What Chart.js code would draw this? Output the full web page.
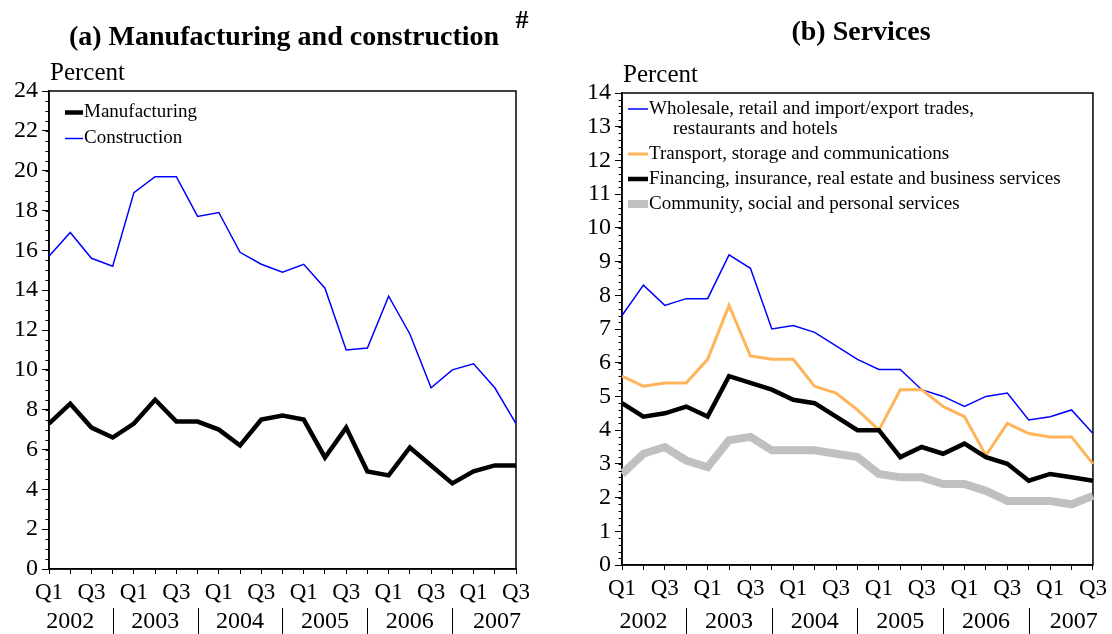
<!DOCTYPE html>
<html>
<head>
<meta charset="utf-8">
<script src="https://cdn.jsdelivr.net/npm/chart.js@4.4.1/dist/chart.umd.min.js"></script>
<style>
  html, body { margin: 0; padding: 0; background: #fff; }
  #wrap { position: relative; width: 1112px; height: 634px; overflow: hidden; }
  .panel { position: absolute; top: 0; height: 634px; }
  #pa { left: 0; width: 545px; }
  #pb { left: 560px; width: 552px; }
</style>
</head>
<body>
<div id="wrap">
  <div class="panel" id="pa"><canvas id="chartA"></canvas></div>
  <div class="panel" id="pb"><canvas id="chartB"></canvas></div>
</div>
<script>
// quarters 2002 Q1 .. 2007 Q3
const years = ["2002", "2003", "2004", "2005", "2006", "2007"];
const quarterNames = ["Q1", "Q2", "Q3", "Q4"];
const quarterLabels = years.flatMap(y => quarterNames.map(q => q + " " + y)).slice(0, 23);

// (a) Manufacturing and construction, percent
const manufacturing = [7.3, 8.3, 7.1, 6.6, 7.3, 8.5, 7.4, 7.4, 7.0, 6.2, 7.5, 7.7,
                       7.5, 5.6, 7.1, 4.9, 4.7, 6.1, 5.2, 4.3, 4.9, 5.2, 5.2];
const construction = [15.7, 16.9, 15.6, 15.2, 18.9, 19.7, 19.7, 17.7, 17.9, 15.9, 15.3, 14.9,
                      15.3, 14.1, 11.0, 11.1, 13.7, 11.8, 9.1, 10.0, 10.3, 9.1, 7.3];

// (b) Services, percent
const wholesale = [7.4, 8.3, 7.7, 7.9, 7.9, 9.2, 8.8, 7.0, 7.1, 6.9, 6.5, 6.1,
                   5.8, 5.8, 5.2, 5.0, 4.7, 5.0, 5.1, 4.3, 4.4, 4.6, 3.9];
const transport = [5.6, 5.3, 5.4, 5.4, 6.1, 7.7, 6.2, 6.1, 6.1, 5.3, 5.1, 4.6,
                   4.0, 5.2, 5.2, 4.7, 4.4, 3.25, 4.2, 3.9, 3.8, 3.8, 3.0];
const financing = [4.8, 4.4, 4.5, 4.7, 4.4, 5.6, 5.4, 5.2, 4.9, 4.8, 4.4, 4.0,
                   4.0, 3.2, 3.5, 3.3, 3.6, 3.2, 3.0, 2.5, 2.7, 2.6, 2.5];
const community = [2.7, 3.3, 3.5, 3.1, 2.9, 3.7, 3.8, 3.4, 3.4, 3.4, 3.3, 3.2,
                   2.7, 2.6, 2.6, 2.4, 2.4, 2.2, 1.9, 1.9, 1.9, 1.8, 2.05];

const SERIF = "'Liberation Serif', 'Times New Roman', serif";
Chart.defaults.font.family = SERIF;
Chart.defaults.color = "#000";

// frame, minor ticks, year row, titles and legend
const decor = {
  id: "decor",
  beforeDatasetsDraw(chart, args, o) {
    const { ctx, chartArea: a } = chart;
    ctx.save();
    ctx.strokeStyle = "#000";
    ctx.lineWidth = 1.5;
    ctx.strokeRect(a.left, a.top, a.right - a.left, a.bottom - a.top);
    ctx.restore();
  },
  afterDraw(chart, args, o) {
    const { ctx, chartArea: a } = chart;
    const x = chart.scales.x, y = chart.scales.y;
    ctx.save();
    ctx.strokeStyle = "#000";
    ctx.fillStyle = "#000";

    // minor y ticks
    ctx.lineWidth = 1;
    for (let v = y.min; v <= y.max + 1e-6; v += o.minor) {
      const py = Math.round(y.getPixelForValue(v)) + 0.5;
      ctx.beginPath();
      ctx.moveTo(a.left - 3.5, py);
      ctx.lineTo(a.left, py);
      ctx.stroke();
    }

    // year row
    const x0 = x.getPixelForValue(0);
    const step = x.getPixelForValue(1) - x0;
    ctx.font = "24px " + SERIF;
    ctx.textAlign = "center";
    ctx.textBaseline = "alphabetic";
    years.forEach((yr, k) => {
      const last = Math.min(4 * k + 3, quarterLabels.length - 1);
      const cx = x0 + step * (4 * k + 1) + (last < 4 * k + 3 ? step * 0.1 : 0);
      ctx.fillText(yr, cx, o.yearBase);
      if (k < years.length - 1) {
        const sx = Math.round(x0 + step * (4 * k + 3)) + 0.5;
        ctx.lineWidth = 1;
        ctx.beginPath();
        ctx.moveTo(sx, o.yearBase - 20);
        ctx.lineTo(sx, chart.height);
        ctx.stroke();
      }
    });

    // title
    ctx.font = "bold 28px " + SERIF;
    ctx.textAlign = "center";
    ctx.textBaseline = "middle";
    ctx.fillText(o.title, o.titleX, o.titleY);
    if (o.hash) {
      ctx.font = "bold 26px " + SERIF;
      ctx.fillText("#", o.hash[0], o.hash[1]);
    }

    // unit label
    ctx.font = "25px " + SERIF;
    ctx.textAlign = "left";
    ctx.fillText("Percent", a.left + 1, o.unitY);

    // legend
    ctx.font = "19px " + SERIF;
    ctx.textBaseline = "middle";
    o.legend.forEach(item => {
      const lx = a.left + o.legendX;
      const ly = a.top + item.dy;
      ctx.strokeStyle = item.color;
      ctx.lineWidth = item.width;
      ctx.lineCap = "butt";
      ctx.beginPath();
      ctx.moveTo(lx, ly);
      ctx.lineTo(lx + o.sampleLen, ly);
      ctx.stroke();
      item.lines.forEach((t, i) => {
        ctx.fillText(t, lx + o.sampleLen + 1 + (i ? 24 : 0), ly + i * 20);
      });
    });
    ctx.restore();
  }
};

function line(label, data, color, width, order) {
  return {
    label, data, order,
    borderColor: color,
    borderWidth: width,
    pointRadius: 0,
    tension: 0,
    borderJoinStyle: "miter",
    borderCapStyle: "butt",
    fill: false
  };
}

function makeChart(id, datasets, yMax, yStep, box, deco) {
  return new Chart(document.getElementById(id), {
    type: "line",
    data: { labels: quarterLabels, datasets },
    plugins: [decor],
    options: {
      responsive: true,
      maintainAspectRatio: false,
      animation: false,
      layout: { padding: { left: 0, right: box.right, top: box.top, bottom: 0 } },
      plugins: {
        legend: { display: false },
        tooltip: { enabled: false },
        decor: deco
      },
      scales: {
        x: {
          afterFit: s => { s.height = box.xh; },
          grid: { drawOnChartArea: false, tickLength: 5, color: "#000", lineWidth: 1 },
          border: { display: true, color: "#000", width: 1.5 },
          ticks: {
            autoSkip: false,
            maxRotation: 0,
            padding: 5,
            font: { size: 23 },
            callback(val, i) { return i % 2 === 0 ? quarterNames[i % 4] : ""; }
          }
        },
        y: {
          min: 0,
          max: yMax,
          afterFit: s => { s.width = box.yw; },
          grid: { drawOnChartArea: false, tickLength: 7, color: "#000", lineWidth: 1 },
          border: { display: true, color: "#000", width: 1.5 },
          ticks: { stepSize: yStep, padding: 4, font: { size: 24 } }
        }
      }
    }
  });
}

makeChart("chartA", [
  line("Manufacturing", manufacturing, "#000000", 4.5, 0),
  line("Construction", construction, "#0000ff", 1.5, 1)
], 24, 2, { right: 29, top: 91, xh: 65, yw: 49 }, {
  minor: 0.5,
  title: "(a) Manufacturing and construction",
  titleX: 284, titleY: 38,
  hash: [522, 21],
  unitY: 73,
  yearBase: 628,
  legendX: 16, sampleLen: 18,
  legend: [
    { lines: ["Manufacturing"], color: "#000000", width: 4.5, dy: 21.5 },
    { lines: ["Construction"], color: "#0000ff", width: 1.5, dy: 47.5 }
  ]
});

makeChart("chartB", [
  line("Wholesale, retail and import/export trades, restaurants and hotels", wholesale, "#0000ff", 1.5, 3),
  line("Transport, storage and communications", transport, "#ffb45a", 3, 2),
  line("Financing, insurance, real estate and business services", financing, "#000000", 4.5, 1),
  line("Community, social and personal services", community, "#c0c0c0", 8, 4)
], 14, 1, { right: 17, top: 93, xh: 69, yw: 62 }, {
  minor: 0.2,
  title: "(b) Services",
  titleX: 301, titleY: 33,
  hash: null,
  unitY: 75,
  yearBase: 628,
  legendX: 6, sampleLen: 20,
  legend: [
    { lines: ["Wholesale, retail and import/export trades,", "restaurants and hotels"], color: "#0000ff", width: 1.5, dy: 16 },
    { lines: ["Transport, storage and communications"], color: "#ffb45a", width: 3, dy: 61 },
    { lines: ["Financing, insurance, real estate and business services"], color: "#000000", width: 4.5, dy: 86 },
    { lines: ["Community, social and personal services"], color: "#c0c0c0", width: 8, dy: 111 }
  ]
});
</script>
</body>
</html>
